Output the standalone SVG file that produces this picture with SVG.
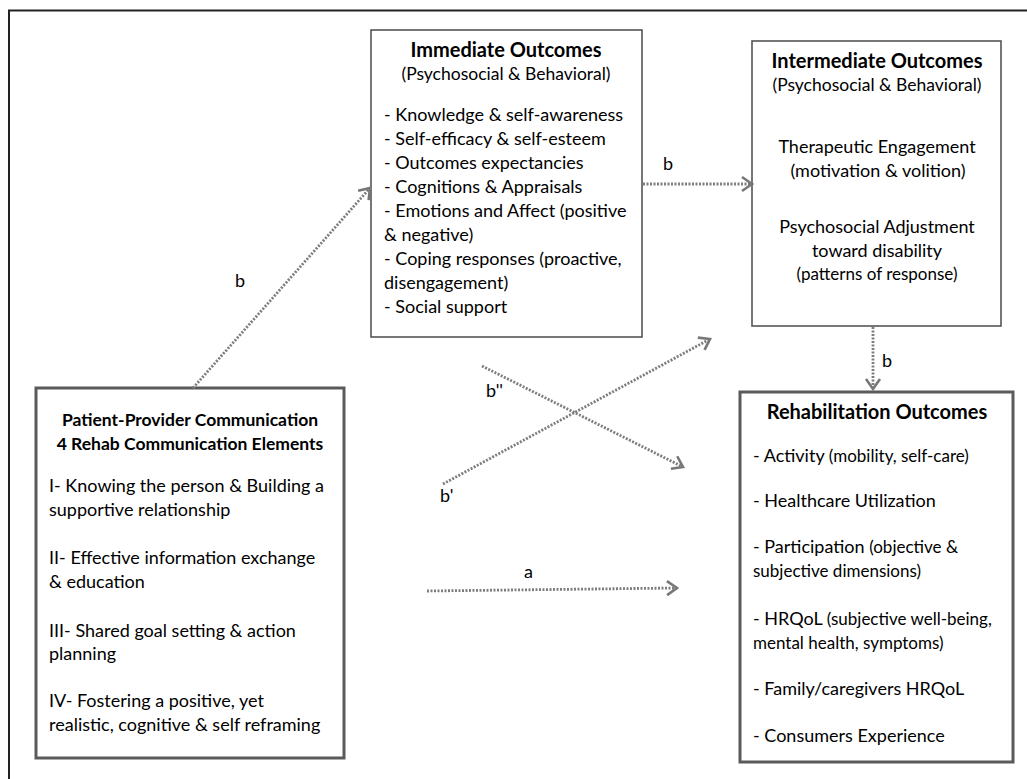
<svg xmlns="http://www.w3.org/2000/svg" width="1027" height="779" viewBox="0 0 1027 779">
<defs>
<marker id="arr" markerUnits="userSpaceOnUse" markerWidth="16" markerHeight="20" refX="13" refY="10" orient="auto">
<path d="M3,3 L13,10 L3,17" fill="none" stroke="#777" stroke-width="2.6"/>
</marker>
</defs>
<style>
text{font-family:Lato,"Liberation Sans",sans-serif;fill:#000;font-size:18px}
.t{font-weight:bold;text-anchor:middle;font-size:20px}
.pt{font-weight:bold;text-anchor:middle;font-size:17.5px}
.c{text-anchor:middle}
.sub{font-size:17.5px}
.s{font-size:17px}
.box{fill:#fff;stroke:#555;stroke-width:1.6}
.boxb{fill:#fff;stroke:#5a5a5a;stroke-width:3}
.con{fill:none;stroke:#7d7d7d;stroke-width:2.8;stroke-dasharray:2 1.5;marker-end:url(#arr)}
</style>
<rect x="0" y="0" width="1027" height="779" fill="#fff"/>
<rect x="9" y="10.5" width="1040" height="800" fill="none" stroke="#222" stroke-width="2"/>

<g id="immediate">
<rect class="box" x="371" y="30" width="271" height="307"/>
<text class="t" x="506" y="57">Immediate Outcomes</text>
<text class="c sub" x="506" y="80">(Psychosocial &amp; Behavioral)</text>
<text x="384" y="121">- Knowledge &amp; self-awareness</text>
<text x="384" y="145">- Self-efficacy &amp; self-esteem</text>
<text x="384" y="169">- Outcomes expectancies</text>
<text x="384" y="193">- Cognitions &amp; Appraisals</text>
<text x="384" y="217">- Emotions and Affect (positive</text>
<text x="384" y="241">&amp; negative)</text>
<text x="384" y="265">- Coping responses  (proactive,</text>
<text x="384" y="289">disengagement)</text>
<text x="384" y="313">- Social support</text>
</g>

<g id="intermediate">
<rect class="box" x="752" y="41" width="249" height="285"/>
<text class="t" x="877" y="68">Intermediate Outcomes</text>
<text class="c sub" x="877" y="91">(Psychosocial &amp; Behavioral)</text>
<text class="c" x="877" y="153">Therapeutic Engagement</text>
<text class="c" x="878" y="177">(motivation &amp; volition)</text>
<text class="c" x="877" y="233">Psychosocial Adjustment</text>
<text class="c" x="877" y="257">toward disability</text>
<text class="c s" x="877" y="280">(patterns of response)</text>
</g>

<g id="rehab">
<rect class="boxb" x="740" y="392" width="273" height="370"/>
<text class="t" x="877" y="419">Rehabilitation Outcomes</text>
<text x="753" y="462">- Activity <tspan class="s">(mobility, self-care)</tspan></text>
<text x="753" y="507">- Healthcare Utilization</text>
<text x="753" y="553">- Participation <tspan class="s">(objective &amp;</tspan></text>
<text class="s" x="753" y="577">subjective dimensions)</text>
<text x="753" y="625">- HRQoL <tspan class="s">(subjective well-being,</tspan></text>
<text class="s" x="753" y="649">mental health, symptoms)</text>
<text x="753" y="695">- Family/caregivers HRQoL</text>
<text x="753" y="742">- Consumers Experience</text>
</g>

<g id="patient">
<rect class="boxb" x="36" y="388" width="308" height="370"/>
<text class="pt" x="190" y="426">Patient-Provider Communication</text>
<text class="pt" x="190" y="450">4 Rehab Communication Elements</text>
<text x="49" y="492">I- Knowing the person &amp; Building a</text>
<text x="49" y="516">supportive relationship</text>
<text x="49" y="564">II- Effective information exchange</text>
<text x="49" y="588">&amp; education</text>
<text x="49" y="637">III- Shared goal setting &amp; action</text>
<text x="49" y="660">planning</text>
<text x="49" y="707">IV- Fostering a positive, yet</text>
<text x="49" y="731">realistic, cognitive &amp; self reframing</text>
</g>

<g id="connectors">
<line class="con" x1="193" y1="388" x2="370" y2="188"/>
<line class="con" x1="643" y1="184" x2="752" y2="184"/>
<line class="con" x1="873" y1="327" x2="873" y2="389"/>
<line class="con" x1="482" y1="366" x2="683" y2="467"/>
<line class="con" x1="443" y1="484" x2="710" y2="339"/>
<line class="con" x1="427" y1="591" x2="677" y2="588"/>
<text x="235" y="287">b</text>
<text x="663" y="170">b</text>
<text x="882" y="367">b</text>
<text x="486" y="397">b''</text>
<text x="440" y="502">b'</text>
<text x="524" y="578">a</text>
</g>
</svg>
